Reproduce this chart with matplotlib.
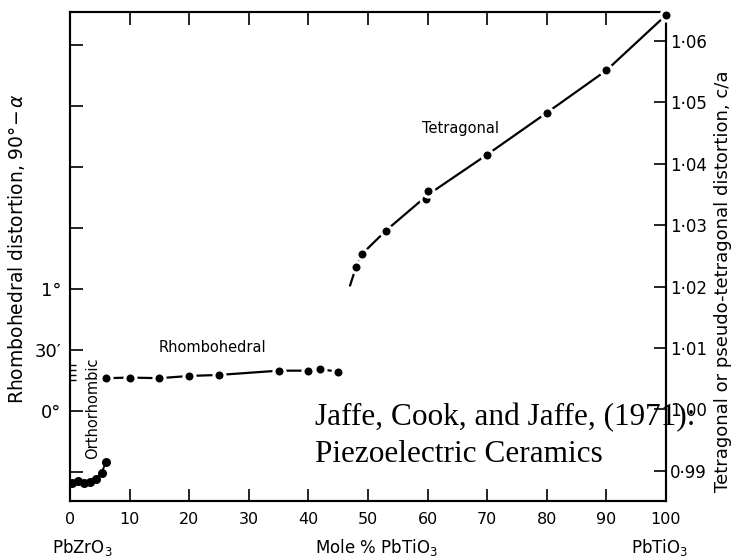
import matplotlib
matplotlib.use('Agg')
import matplotlib.pyplot as plt

# ---- data ----
# orthorhombic (left axis, arc minutes)
ortho_x = [0.3, 1.3, 2.3, 3.3, 4.3, 5.3, 6.1]
ortho_y = [-35.3, -34.6, -35.3, -34.8, -33.6, -30.3, -24.9]

# rhombohedral (left axis, arc minutes)
rhombo_x = [6, 10, 15, 20, 25, 35, 40, 42, 45]
rhombo_y = [16.1, 16.4, 16.1, 17.2, 17.7, 19.8, 19.8, 20.5, 19.3]

# tetragonal (right axis, c/a)
tet_x = [48, 49, 53, 59.8, 60.1, 70, 80, 90, 100]
tet_y = [1.0232, 1.0253, 1.0291, 1.0342, 1.0355, 1.0415, 1.0483, 1.0552, 1.0642]

# drawn trend line through the tetragonal points
tet_line_x = [47.0, 48, 49, 53, 60, 70, 80, 90, 100]
tet_line_y = [1.0202, 1.0232, 1.0253, 1.0291, 1.0349, 1.0415, 1.0483, 1.0552, 1.0642]

x_ticks = [0, 10, 20, 30, 40, 50, 60, 70, 80, 90, 100]
left_ticks = [-30, 0, 30, 60, 90, 120, 150, 180]
left_labels = ['', '0°', '30′', '1°', '', '', '', '']
left_minor = [15, 17.5, 20, 22.5]
right_ticks = [0.99, 1.00, 1.01, 1.02, 1.03, 1.04, 1.05, 1.06]
right_labels = ['0·99', '1·00', '1·01', '1·02', '1·03', '1·04', '1·05', '1·06']

plt.rcParams['font.family'] = ['DejaVu Sans']

fig = plt.figure(figsize=(7.35, 5.6), dpi=100)
ax = fig.add_axes([70/735, 1-501/560, 596/735, 489/560])
ax2 = ax.twinx()

ax.set_xlim(0, 100)
ax.set_ylim(-44.3, 196.2)
ax2.set_ylim(0.98507, 1.06471)

for sp in ax.spines.values():
    sp.set_linewidth(1.5)
for sp in ax2.spines.values():
    sp.set_linewidth(1.5)

# lines + dots (white rim gives the broken-line look)
ax.plot(ortho_x, ortho_y, color='black', lw=1.4, marker='o', ms=6.5, mew=0, zorder=3)
ax.plot(rhombo_x, rhombo_y, color='black', lw=1.6, marker='o', ms=8, mfc='black',
        mec='white', mew=2.2, zorder=3)
ax2.plot(tet_line_x, tet_line_y, color='black', lw=1.6, zorder=2, clip_on=False)
ax2.plot(tet_x, tet_y, ls='none', marker='o', ms=8, mfc='black', mec='white', mew=2.2,
         zorder=3, clip_on=False)

# ticks
ax.set_xticks(x_ticks)
ax.set_xticklabels([str(v) for v in x_ticks], fontsize=11.5)
ax.tick_params(axis='x', direction='in', length=9, width=1.2, top=True, pad=8)
ax.set_yticks(left_ticks)
ax.set_yticklabels(left_labels, fontsize=13)
ax.set_yticks(left_minor, minor=True)
ax.tick_params(axis='y', which='major', direction='in', length=9, width=1.2, pad=6)
ax.tick_params(axis='y', which='minor', direction='in', length=4, width=1.0)
ax2.set_yticks(right_ticks)
ax2.set_yticklabels(right_labels, fontsize=12)
ax2.tick_params(axis='y', direction='in', length=9, width=1.2, pad=3)

# axis labels
ax.set_ylabel('Rhombohedral distortion, 90°$-\\,\\alpha$', fontsize=13.5)
ax.yaxis.set_label_coords(-0.072, 0.517)
ax2.set_ylabel('Tetragonal or pseudo-tetragonal distortion, c/a', fontsize=13)
ax2.yaxis.set_label_coords(1.08, 0.45)
fig.text(82/735, 1-548/560, r'$\mathregular{PbZrO_3}$', ha='center', va='center', fontsize=12)
fig.text(377/735, 1-548/560, r'$\mathregular{Mole\ \%\ PbTiO_3}$', ha='center', va='center', fontsize=12)
fig.text(660/735, 1-548/560, r'$\mathregular{PbTiO_3}$', ha='center', va='center', fontsize=12)

# phase names
fig.text(212/735, 1-347/560, 'Rhombohedral', ha='center', va='center', fontsize=10.5)
fig.text(461/735, 1-128/560, 'Tetragonal', ha='center', va='center', fontsize=10.5)
fig.text(93/735, 1-408/560, 'Orthorhombic', ha='center', va='center', fontsize=10.5, rotation=90)

# source note
fig.text(315/735, 1-425/560, 'Jaffe, Cook, and Jaffe, (1971):', ha='left', va='baseline',
         fontsize=22.5, family='Liberation Serif')
fig.text(315/735, 1-462/560, 'Piezoelectric Ceramics', ha='left', va='baseline',
         fontsize=22.5, family='Liberation Serif')

fig.savefig('out.png', dpi=100)
